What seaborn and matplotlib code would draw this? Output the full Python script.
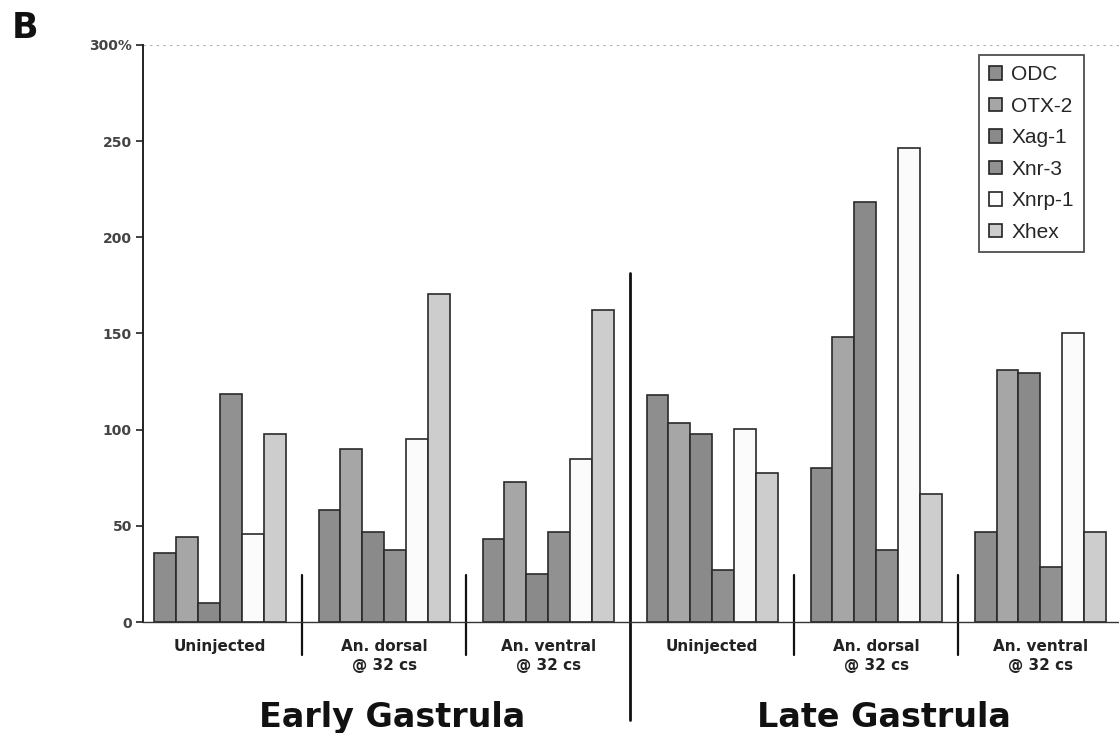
import pandas as pd
import matplotlib.pyplot as plt
import seaborn as sns
from matplotlib.patches import Patch

# values (% of control)
groups = ['Early Uninjected', 'Early An. dorsal', 'Early An. ventral',
          'Late Uninjected', 'Late An. dorsal', 'Late An. ventral']
group_labels = ['Uninjected', 'An. dorsal\n@ 32 cs', 'An. ventral\n@ 32 cs',
                'Uninjected', 'An. dorsal\n@ 32 cs', 'An. ventral\n@ 32 cs']
genes = ['ODC', 'OTX-2', 'Xag-1', 'Xnr-3', 'Xnrp-1', 'Xhex']

odc = [36, 58, 43, 118, 80, 47]
otx2 = [44, 90, 73, 103.5, 148, 131]
xag1 = [10, 47, 25, 98, 218.5, 129.5]
xnr3 = [118.5, 37.5, 47, 27, 37.5, 28.5]
xnrp1 = [46, 95, 85, 100.5, 246.5, 150]
xhex = [98, 170.5, 162, 77.5, 66.5, 47]

y_ticks = [0, 50, 100, 150, 200, 250, 300]
y_ticklabels = ['0', '50', '100', '150', '200', '250', '300%']

colors = ['#8e8e8e', '#a6a6a6', '#8a8a8a', '#919191', '#fbfbfb', '#cdcdcd']

rows = []
for gene, vals in zip(genes, [odc, otx2, xag1, xnr3, xnrp1, xhex]):
    for g, v in zip(groups, vals):
        rows.append({'group': g, 'gene': gene, 'value': v})
df = pd.DataFrame(rows)

sns.set_style('white')
plt.rcParams['font.family'] = ['DejaVu Sans']

fig = plt.figure(figsize=(11.19, 7.33), dpi=100)
ax = fig.add_axes([143 / 1119, 111 / 733, 1 - 143 / 1119, 577 / 733])

sns.barplot(data=df, x='group', y='value', hue='gene', order=groups,
            hue_order=genes, palette=colors, width=0.8, edgecolor='#2a2a2a',
            linewidth=1.2, legend=False, ax=ax, saturation=1)

ax.set_ylim(0, 300)
ax.set_xlim(-0.47, 5.48)
ax.set_yticks(y_ticks)
ax.set_yticklabels(y_ticklabels, fontsize=10, fontweight='bold', color='#444444')
ax.set_xticks(range(len(groups)))
ax.set_xticklabels(group_labels, fontsize=11, fontweight='bold', color='#222222',
                   linespacing=1.35)
ax.tick_params(axis='x', length=0, pad=12)
ax.tick_params(axis='y', length=5, width=1.2, direction='out', color='#222222', left=True, pad=3)
ax.set_xlabel('')
ax.set_ylabel('')
for s in ['top', 'right']:
    ax.spines[s].set_visible(False)
ax.spines['left'].set_linewidth(1.4)
ax.spines['left'].set_color('#222222')
ax.spines['bottom'].set_linewidth(1.0)
ax.spines['bottom'].set_color('#333333')

# faint dotted line at the top
ax.axhline(300, color='#aaaaaa', lw=0.8, ls=(0, (2, 4)), zorder=0)

# short separators between groups
trans = ax.get_xaxis_transform()
for xs in [0.5, 1.5, 3.5, 4.5]:
    ax.plot([xs, xs], [0.081, -0.057], transform=trans, color='#111111',
            lw=1.6, clip_on=False)
# stage divider
ax.plot([2.5, 2.5], [0.605, -0.17], transform=trans, color='#111111',
        lw=2.0, clip_on=False)

ax.text(1.05, -0.165, 'Early Gastrula', transform=trans, ha='center', va='center',
        fontsize=24, fontweight='bold', color='#111111')
ax.text(4.05, -0.165, 'Late Gastrula', transform=trans, ha='center', va='center',
        fontsize=24, fontweight='bold', color='#111111')

fig.text(12 / 1119, 1 - 28 / 733, 'B', fontsize=25, fontweight='bold',
         ha='left', va='center', color='#111111')

handles = [Patch(facecolor=c, edgecolor='#222222', linewidth=1.2, label=g)
           for c, g in zip(colors, genes)]
leg = ax.legend(handles=handles, loc='upper left',
                bbox_to_anchor=((979 - 143) / 976, (622 - 55) / 577),
                borderaxespad=0, frameon=True, fancybox=False,
                prop={'family': 'Liberation Sans', 'size': 15},
                handlelength=0.6, handleheight=0.6, handletextpad=0.45,
                labelspacing=0.6, borderpad=0.5, edgecolor='#222222')
leg.get_frame().set_linewidth(1.3)

plt.savefig('out.png', dpi=100)
